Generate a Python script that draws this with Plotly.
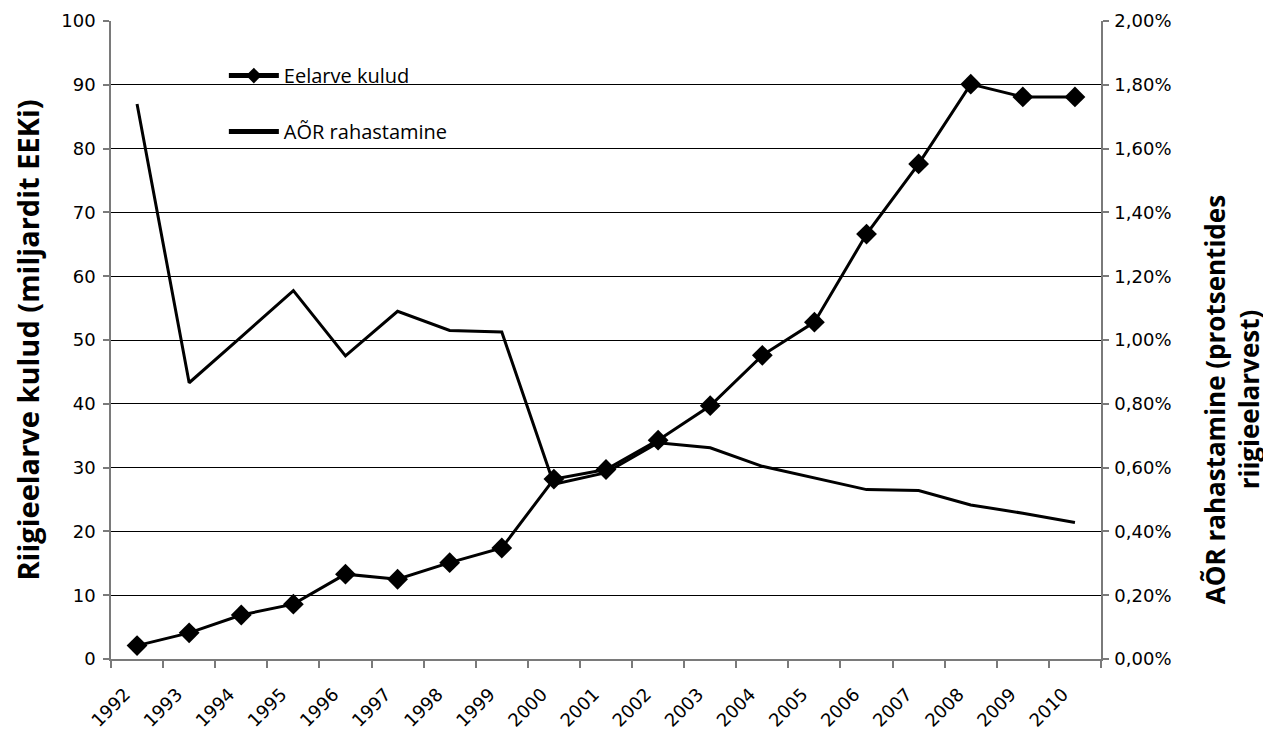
import plotly.graph_objects as go

years = [str(y) for y in range(1992, 2011)]
eelarve_kulud = [2.1, 4.1, 6.9, 8.6, 13.3, 12.5, 15.1, 17.4, 28.2, 29.7, 34.3,
                 39.7, 47.6, 52.8, 66.6, 77.6, 90.1, 88.1, 88.1]
aor_rahastamine_pct = [1.74, 0.866, 1.01, 1.155, 0.95, 1.09, 1.03, 1.025, 0.548,
                       0.584, 0.678, 0.662, 0.604, 0.567, 0.531, 0.528, 0.483,
                       0.457, 0.428]

fig = go.Figure()
fig.add_trace(go.Scatter(
    x=years, y=eelarve_kulud, name="Eelarve kulud", mode="lines+markers",
    line=dict(color="black", width=3),
    marker=dict(symbol="diamond", size=16, color="black"),
    legendgroup="a",
))
fig.add_trace(go.Scatter(
    x=years, y=aor_rahastamine_pct, name="AÕR rahastamine", mode="lines",
    line=dict(color="black", width=3), yaxis="y2",
    legendgroup="b",
))

tick_font = dict(family="DejaVu Sans", size=18, color="black")
axis_grey = "#7a7a7a"

# white panel behind the legend, hiding the gridlines (drawn above grid, below traces)
fig.add_shape(type="rect", xref="paper", yref="paper",
              x0=0.097, x1=0.3525, y0=0.772, y1=0.945,
              fillcolor="white", line=dict(width=0), layer="between")

# right-hand axis title (placed lower than the axis centre, as in the original)
fig.add_annotation(
    text="<b>AÕR rahastamine (protsentides<br>riigieelarvest)</b>",
    xref="paper", yref="paper", x=1.1325, y=0.406,
    xanchor="center", yanchor="middle", align="center",
    textangle=-90, showarrow=False,
    font=dict(family="Open Sans", size=26, color="black"),
)

fig.update_layout(
    width=1263, height=723,
    margin=dict(l=103, r=170, t=13, b=72, autoexpand=False),
    paper_bgcolor="white", plot_bgcolor="white",
    separators=", ",
    showlegend=True,
    legend=dict(
        x=0.114, y=0.945, xanchor="left", yanchor="top",
        bgcolor="rgba(0,0,0,0)", borderwidth=0,
        font=dict(family="Open Sans", size=20, color="black"),
        tracegroupgap=27, traceorder="grouped",
        itemsizing="constant", itemwidth=50,
    ),
    xaxis=dict(
        type="category", range=[-0.5, 18.5],
        showline=True, linecolor=axis_grey, linewidth=1.5,
        ticks="outside", tickson="boundaries", ticklen=7, tickcolor=axis_grey,
        tickwidth=1.5,
        tickangle=-45, tickfont=tick_font, ticklabelshift=-12,
        ticklabelstandoff=16,
        showgrid=False, zeroline=False,
    ),
    yaxis=dict(
        range=[0, 100], dtick=10,
        showline=True, linecolor=axis_grey, linewidth=1.5,
        ticks="outside", ticklen=6, tickcolor=axis_grey, tickwidth=1.5,
        tickfont=tick_font, ticklabelstandoff=4,
        showgrid=True, gridcolor="black", gridwidth=1,
        zeroline=False,
        title=dict(text="<b>Riigieelarve kulud (miljardit EEKi)</b>",
                   font=dict(family="Open Sans", size=29, color="black"),
                   standoff=14),
    ),
    yaxis2=dict(
        range=[0, 2], dtick=0.2, tickformat=".2f", ticksuffix="%",
        overlaying="y", side="right",
        showline=True, linecolor=axis_grey, linewidth=1.5,
        ticks="outside", ticklen=6, tickcolor=axis_grey, tickwidth=1.5,
        tickfont=tick_font, ticklabelstandoff=2,
        showgrid=False, zeroline=False,
    ),
)

fig.write_html("out.html")
